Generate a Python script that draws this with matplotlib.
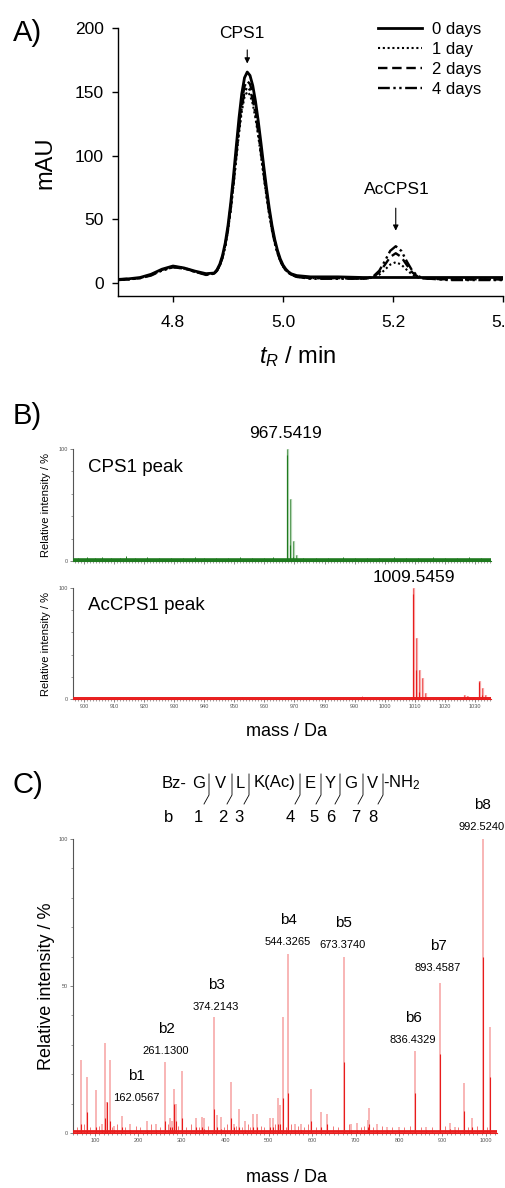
import numpy as np
import matplotlib
matplotlib.use('Agg')
import matplotlib.pyplot as plt
from matplotlib.ticker import MultipleLocator, FixedLocator
from matplotlib.lines import Line2D

plt.rcParams['font.family'] = ['Liberation Sans', 'DejaVu Sans']
plt.rcParams['mathtext.fontset'] = 'custom'
plt.rcParams['mathtext.rm'] = 'Liberation Sans'
plt.rcParams['mathtext.it'] = 'Liberation Sans:italic'

# ---------------- A) HPLC traces ----------------
t_min = [4.70, 4.72, 4.74, 4.76, 4.78, 4.80, 4.82, 4.84, 4.86,
         4.875, 4.880, 4.885, 4.890, 4.895, 4.900, 4.905, 4.910, 4.915, 4.920,
         4.925, 4.930, 4.935, 4.940, 4.945, 4.950, 4.955, 4.960, 4.965, 4.970,
         4.975, 4.980, 4.985, 4.990, 4.995, 5.000, 5.005, 5.010, 5.015,
         5.025, 5.05, 5.10,
         5.145, 5.155, 5.165, 5.175, 5.185, 5.195, 5.205, 5.215, 5.225, 5.235,
         5.245, 5.255, 5.265,
         5.30, 5.35, 5.40]

mau_0d = [3, 3.5, 4.5, 7, 11, 13.5, 12, 9.5, 7.5,
          8, 10.6, 14.9, 21.7, 31.6, 45.3, 63.1, 84.2, 107.1, 129.5,
          148.4, 161, 165.5, 162.8, 154.9, 142.6, 127.1, 109.7, 91.7, 74.6,
          58.9, 45.3, 34.3, 25.7, 19.1, 14.3, 11.1, 8.9, 7.4,
          6, 5, 5,
          4.5, 4.5, 4.5, 4.5, 4.5, 4.5, 4.5, 4.5, 4.5, 4.5,
          4.5, 4.5, 4.5,
          4.5, 4.5, 4.5]

mau_1d = [2.5, 3, 4, 6.5, 10, 12.5, 11.5, 9, 7,
          7.4, 9.6, 13.5, 19.7, 28.6, 41.1, 57.2, 76.3, 97.0, 117.3,
          134.5, 145.9, 150, 147.5, 140.4, 129.2, 115.2, 99.4, 83.1, 67.6,
          53.4, 41.1, 31.1, 23.3, 17.3, 13.0, 10.1, 8.1, 6.7,
          5, 4, 4,
          3.6, 3.8, 4.6, 6.7, 10.5, 14.6, 16.5, 14.6, 10.5, 6.7,
          4.6, 3.8, 3.6,
          3, 3, 3]

mau_2d = [3, 3.5, 4, 6.5, 10.5, 13, 12, 9, 7,
          7.6, 9.9, 14.0, 20.6, 30.1, 43.2, 60.3, 80.6, 102.5, 124.0,
          142.2, 154.3, 158.6, 156.0, 148.4, 136.6, 121.7, 105.0, 87.8, 71.3,
          56.3, 43.2, 32.6, 24.4, 18.1, 13.4, 10.4, 8.3, 6.8,
          5, 4, 4,
          3.6, 3.9, 5.2, 8.5, 14.3, 20.6, 23.5, 20.6, 14.3, 8.5,
          5.2, 3.9, 3.6,
          3, 3, 3]

mau_4d = [2.5, 3, 4, 6, 10, 12.5, 11.5, 9, 6.5,
          7.5, 9.7, 13.7, 20.1, 29.3, 42.0, 58.6, 78.2, 99.5, 120.3,
          137.9, 149.6, 153.8, 151.3, 143.9, 132.5, 118.1, 101.9, 85.2, 69.3,
          54.7, 42.0, 31.8, 23.8, 17.6, 13.2, 10.2, 8.2, 6.8,
          5, 3.5, 3.5,
          3.6, 4.0, 5.7, 9.8, 17.2, 25.4, 29.0, 25.4, 17.2, 9.8,
          5.7, 4.0, 3.6,
          2.5, 2.5, 2.5]

trace_labels = ['0 days', '1 day', '2 days', '4 days']

# ---------------- B) MS of the two HPLC peaks ----------------
cps1_mz = [967.54, 968.54, 969.55, 970.55]
cps1_int = [100, 55, 18, 5]
cps1_core = [95, 14, 4, 1]
cps1_noise_mz = [898, 901, 903.5, 906, 909, 912, 914, 917, 921, 925, 929, 933,
                 937, 940, 944, 948, 952, 956, 960, 963, 973, 977, 981, 986,
                 990, 994, 998, 1003, 1007, 1011, 1016, 1020, 1024, 1028, 1032]
cps1_noise_int = [2.5, 3.5, 3, 3.5, 2.5, 3, 4.5, 2.5, 3.5, 2.5, 3, 2.5,
                  4, 2.5, 3, 2.5, 3.5, 2.5, 3, 3.5, 2.5, 3, 2.5, 3.5,
                  2.5, 3, 2.5, 3.5, 3, 2.5, 3.5, 2.5, 3, 3.5, 2.5]

accps1_mz = [1009.55, 1010.55, 1011.55, 1012.55, 1013.55,
             1026.5, 1027.5, 1028.5, 1029.5, 1031.5, 1032.5, 1033.5]
accps1_int = [100, 55, 26, 19, 5, 4, 3, 2, 2, 16, 10, 4]
accps1_core = [95, 26, 6, 2, 1, 1, 1, 1, 1, 15, 4, 1]
accps1_noise_mz = [905, 912, 920, 936, 952.5, 968, 975, 986, 992.5, 993.5,
                   1000, 1004, 1016, 1021]
accps1_noise_int = [1, 1, 1.2, 1, 2, 1, 1.2, 1, 2.5, 2, 1, 1, 1, 1.5]

# ---------------- C) MS/MS of AcCPS1 ----------------
ms2_mz = [69, 81.4, 102, 116, 123, 127, 134, 145, 162.0567, 182, 219, 240,
          261.1300, 272, 278, 283, 285.7, 300, 332, 346, 351, 374.2143, 382,
          391, 413, 420, 432, 445, 465, 474, 503, 511, 520.6, 525, 533,
          544.3265, 560, 575, 598, 620, 634, 673.3740, 690, 704, 728, 732,
          749, 772, 800, 836.4329, 862, 893.4587, 917.5, 928, 950, 967,
          992.5240, 1010]
ms2_int = [25, 19, 14.6, 3, 30.6, 10.5, 25, 2.5, 5.8, 3, 4, 3,
           24, 5, 4, 15, 10, 21, 5, 5.5, 5, 39.5, 6,
           5.5, 17.3, 3, 8, 4, 6.5, 6.5, 5, 5, 12, 9.5, 39.5,
           61, 3, 3, 15, 7, 6.5, 60, 3, 3.5, 4.5, 8.5,
           3, 2, 2, 28, 2, 51, 3.5, 2, 17, 5,
           100, 36]
ms2_core = [3, 7, 2, 1, 5, 10.5, 4, 1, 2, 1, 1, 1,
            4, 2, 2, 10, 4, 5, 2, 2, 1.5, 8, 2,
            1.5, 5, 2, 2, 1, 2, 2, 2, 2, 3, 3, 12,
            13.5, 1, 1, 4, 2, 3, 24, 1, 1, 2, 3,
            1, 1, 1, 13.5, 1, 27, 1.5, 1, 7.5, 2,
            60, 19]
ms2_noise_mz = [58, 75, 90, 110, 140, 152, 170, 195, 205, 230, 250, 268, 292,
                310, 322, 340, 360, 398, 405, 425, 438, 452, 458, 482, 490,
                515, 540, 552, 568, 582, 590, 610, 648, 660, 685, 712, 720,
                740, 760, 785, 812, 825, 850, 875, 905, 935, 958, 980, 1003]
ms2_noise_int = [2, 3, 2, 2.5, 2, 3, 2, 2.5, 2, 3, 2, 3, 2.5,
                 2, 3, 2, 2.5, 2, 3, 2.5, 2, 3, 2, 2.5, 2,
                 3, 2, 3, 2.5, 2, 3, 2, 2.5, 2, 3, 2, 2.5,
                 2, 2.5, 2, 2, 2.5, 2, 2, 2.5, 2, 2, 2.5, 2]

b_ions = ['b1', 'b2', 'b3', 'b4', 'b5', 'b6', 'b7', 'b8']
b_mz = [162.0567, 261.1300, 374.2143, 544.3265, 673.3740, 836.4329, 893.4587, 992.5240]

W, H = 505, 1188
fig = plt.figure(figsize=(W / 100, H / 100), dpi=100)


def box(l, t, r, b):
    return [l / W, 1 - b / H, (r - l) / W, (b - t) / H]


def ftext(x, y, s, **kw):
    kw.setdefault('ha', 'center')
    kw.setdefault('va', 'center')
    fig.text(x / W, 1 - y / H, s, **kw)


def fline(xs, ys, **kw):
    fig.add_artist(Line2D([x / W for x in xs], [1 - y / H for y in ys],
                          transform=fig.transFigure, **kw))


# ---- A
axA = fig.add_axes(box(118, 28, 503, 296))
styles = ['-', (0, (1, 1.3)), (0, (4, 2)), (0, (5, 1.5, 1, 1.5, 1, 1.5))]
widths = [2.0, 1.5, 1.7, 1.7]
for y, lab, ls, lw in zip([mau_0d, mau_1d, mau_2d, mau_4d], trace_labels, styles, widths):
    axA.plot(t_min, y, color='black', ls=ls, lw=lw, label=lab)
axA.set_xlim(4.7, 5.4)
axA.set_ylim(-10, 200)
axA.set_xticks([4.8, 5.0, 5.2, 5.4])
axA.set_xticklabels(['4.8', '5.0', '5.2', '5.4'])
axA.set_yticks([0, 50, 100, 150, 200])
axA.spines[['top', 'right']].set_visible(False)
for s in axA.spines.values():
    s.set_linewidth(1.0)
axA.tick_params(labelsize=12.5, length=4, width=1, pad=6)
axA.tick_params(axis='x', pad=10)
axA.legend(loc='upper left', bbox_to_anchor=(370 / W, 1 - 14 / H),
           bbox_transform=fig.transFigure, frameon=False, fontsize=12,
           handlelength=2.6, handletextpad=0.6, labelspacing=0.3, borderpad=0)
axA.annotate('', xy=(4.935, 170), xytext=(4.935, 185),
             arrowprops=dict(arrowstyle='-|>', color='black', lw=0.8, mutation_scale=8))
axA.annotate('', xy=(5.205, 39), xytext=(5.205, 61),
             arrowprops=dict(arrowstyle='-|>', color='black', lw=0.8, mutation_scale=8))
ftext(242, 33, 'CPS1', fontsize=12.5)
ftext(397, 189, 'AcCPS1', fontsize=12.5)
ftext(45, 163, 'mAU', fontsize=17, rotation=90)
ftext(298, 357, r'$\it{t}_{\it{R}}$ / min', fontsize=17)
ftext(13, 33, 'A)', fontsize=21, ha='left')


# ---- B
def ms_axes(rect, xlim):
    ax = fig.add_axes(rect)
    ax.set_xlim(*xlim)
    ax.set_ylim(0, 100)
    ax.spines[['top', 'right']].set_visible(False)
    ax.spines['left'].set_linewidth(0.8)
    ax.spines['left'].set_color('#555555')
    ax.tick_params(labelsize=4, length=2, width=0.5, pad=1.5, colors='#555555')
    ax.tick_params(which='minor', length=1.2, width=0.4, colors='#555555')
    return ax


green_dark, green_light, green_mid = '#1e7a1e', '#b9d9b9', '#5e9e5e'
red_dark, red_light, red_mid = '#e81c1c', '#f8b0b0', '#f06060'

axB1 = ms_axes(box(73, 449, 491, 561), (896.3, 1035.4))
axB2 = ms_axes(box(73, 588, 491, 699), (896.3, 1035.4))
for ax in (axB1, axB2):
    ax.xaxis.set_major_locator(MultipleLocator(10))
    ax.xaxis.set_minor_locator(MultipleLocator(1))
    ax.yaxis.set_major_locator(FixedLocator([0, 100]))
    ax.yaxis.set_minor_locator(MultipleLocator(20))
    ax.set_ylabel('Relative intensity / %', fontsize=8)
    ax.yaxis.set_label_coords(-0.053, 0.5)
axB1.tick_params(labelbottom=False)

axB1.vlines(cps1_noise_mz, 0, cps1_noise_int, color=green_dark, lw=0.7)
axB1.axhline(1.0, color=green_dark, lw=2.6, zorder=3)
axB1.spines['bottom'].set_color(green_dark)
axB1.vlines([m + 0.3 for m in cps1_mz], 0, cps1_int, color=green_light, lw=1.6)
axB1.vlines(cps1_mz, 0, cps1_int, color=green_mid, lw=0.8)
axB1.vlines(cps1_mz, 0, cps1_core, color=green_dark, lw=0.8)

axB2.vlines(accps1_noise_mz, 0, accps1_noise_int, color=red_mid, lw=0.6)
axB2.axhline(0.5, color=red_dark, lw=1.4, zorder=3)
axB2.spines['bottom'].set_color(red_dark)
axB2.vlines([m + 0.3 for m in accps1_mz], 0, accps1_int, color=red_light, lw=1.6)
axB2.vlines(accps1_mz, 0, accps1_int, color=red_mid, lw=0.8)
axB2.vlines(accps1_mz, 0, accps1_core, color=red_dark, lw=0.8)

ftext(88, 467, 'CPS1 peak', fontsize=13.5, ha='left')
ftext(88, 605, 'AcCPS1 peak', fontsize=13.5, ha='left')
ftext(286, 434, '%.4f' % 967.5419, fontsize=12.5)
ftext(414, 577, '%.4f' % 1009.5459, fontsize=12.5)
ftext(287, 732, 'mass / Da', fontsize=13)
ftext(13, 416, 'B)', fontsize=21, ha='left')

# ---- C
axC = ms_axes(box(73, 839, 497, 1133), (49.8, 1025.5))
axC.xaxis.set_major_locator(MultipleLocator(100))
axC.xaxis.set_minor_locator(MultipleLocator(10))
axC.yaxis.set_major_locator(FixedLocator([0, 50, 100]))
axC.yaxis.set_minor_locator(MultipleLocator(10))
axC.set_ylabel('Relative intensity / %', fontsize=13)
axC.yaxis.set_label_coords(-0.042, 0.5)
axC.vlines(ms2_noise_mz, 0, ms2_noise_int, color=red_mid, lw=0.6)
axC.axhline(0.7, color=red_dark, lw=2.0, zorder=3)
axC.spines['bottom'].set_color(red_dark)
axC.vlines(ms2_mz, 0, ms2_int, color=red_light, lw=1.3)
axC.vlines(ms2_mz, 0, ms2_core, color=red_dark, lw=0.8)
ftext(287, 1177, 'mass / Da', fontsize=13)
ftext(13, 785, 'C)', fontsize=21, ha='left')

# b-ion labels above their peaks
ion_pos = [(136, 1076), (166, 1029), (216, 985), (288, 920),
           (343, 923), (413, 1018), (438, 946), (482, 805)]
for name, mz, (x, y) in zip(b_ions, b_mz, ion_pos):
    ftext(x, y, name, fontsize=11)
    ftext(x, y + 22, '%.4f' % mz, fontsize=8)

# peptide sequence with fragmentation marks
residues = [('Bz-', 174), ('G', 199), ('V', 220), ('L', 240), ('K(Ac)', 274.5),
            ('E', 310), ('Y', 330), ('G', 351), ('V', 372)]
for s, x in residues:
    ftext(x, 783, s, fontsize=12)
ftext(383, 783, '-NH$_2$', fontsize=12, ha='left')
for x in [209, 232, 249, 300, 321, 340, 363, 383]:
    fline([x, x, x - 5], [774, 795, 804], color='black', lw=0.6)
b_row = [('b', 169), ('1', 198), ('2', 223), ('3', 239), ('4', 290),
         ('5', 314), ('6', 331), ('7', 356), ('8', 373)]
for s, x in b_row:
    ftext(x, 817, s, fontsize=12)

fig.savefig('out.png', dpi=100)
